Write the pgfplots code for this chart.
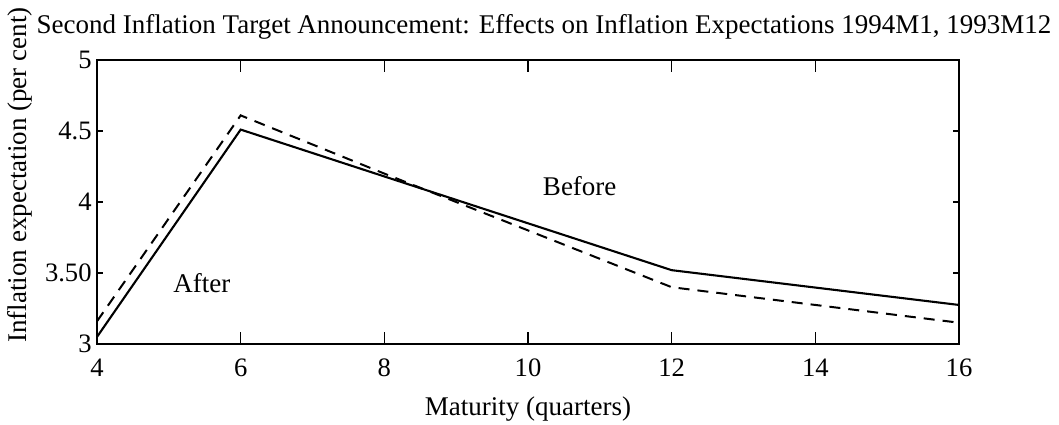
\documentclass[border=0pt]{standalone}
\usepackage{fontspec}
\setmainfont{Liberation Serif}
\usepackage{pgfplots}
\pgfplotsset{compat=1.18}
\begin{document}
\fontsize{13.5}{16}\selectfont
\begin{tikzpicture}
\useasboundingbox (-48.5pt,-40pt) rectangle (481pt,172pt);
\begin{axis}[
  at={(0,0)}, anchor=south west,
  scale only axis,
  width=431pt, height=142pt,
  xmin=4, xmax=16, ymin=3, ymax=5,
  xtick={4,6,...,16},
  ytick={3,3.5,4,4.5,5},
  yticklabels={3,3.50,4,4.5,5},
  tick align=inside,
  xtick style={black, line width=0.7pt, /pgfplots/major tick length=6pt},
  ytick style={black, line width=0.7pt, /pgfplots/major tick length=3pt},
  axis line style={line width=0.65pt},
  xtick pos=both, ytick pos=both,
  xticklabel pos=lower, yticklabel pos=left,
  /pgf/number format/assume math mode=true,
  ticklabel style={font=\fontsize{13.3}{16}\selectfont},
  xticklabel style={anchor=base, yshift=-16pt, inner sep=0pt},
  yticklabel style={anchor=east, inner sep=0pt, xshift=-2.5pt},
  clip=false,
]
\addplot[black, line width=1.05pt] coordinates {(4,3.05) (6,4.51) (8,4.18) (12,3.52) (16,3.275)};
\addplot[black, line width=1pt, dash pattern=on 5.5pt off 4pt] coordinates {(4,3.16) (6,4.61) (8,4.20) (12,3.40) (16,3.15)};
\node[font=\fontsize{13.5}{16}\selectfont] at (axis cs:10.72,4.11) {Before};
\node[font=\fontsize{13.5}{16}\selectfont] at (axis cs:5.46,3.43) {After};
\node[font=\fontsize{13.5}{16}\selectfont, anchor=base, inner sep=0pt] at ([yshift=13.5pt, xshift=223.5pt]rel axis cs:0,1) {Second Inflation Target Announcement: Effects on Inflation Expectations 1994M1, 1993M12};
\node[font=\fontsize{13.5}{16}\selectfont, anchor=base, inner sep=0pt] at ([yshift=-35.5pt]rel axis cs:0.5,0) {Maturity (quarters)};
\node[font=\fontsize{13.5}{16}\selectfont, rotate=90] at ([xshift=-38.5pt]rel axis cs:0,0.595) {Inflation expectation (per cent)};
\end{axis}
\end{tikzpicture}
\end{document}
